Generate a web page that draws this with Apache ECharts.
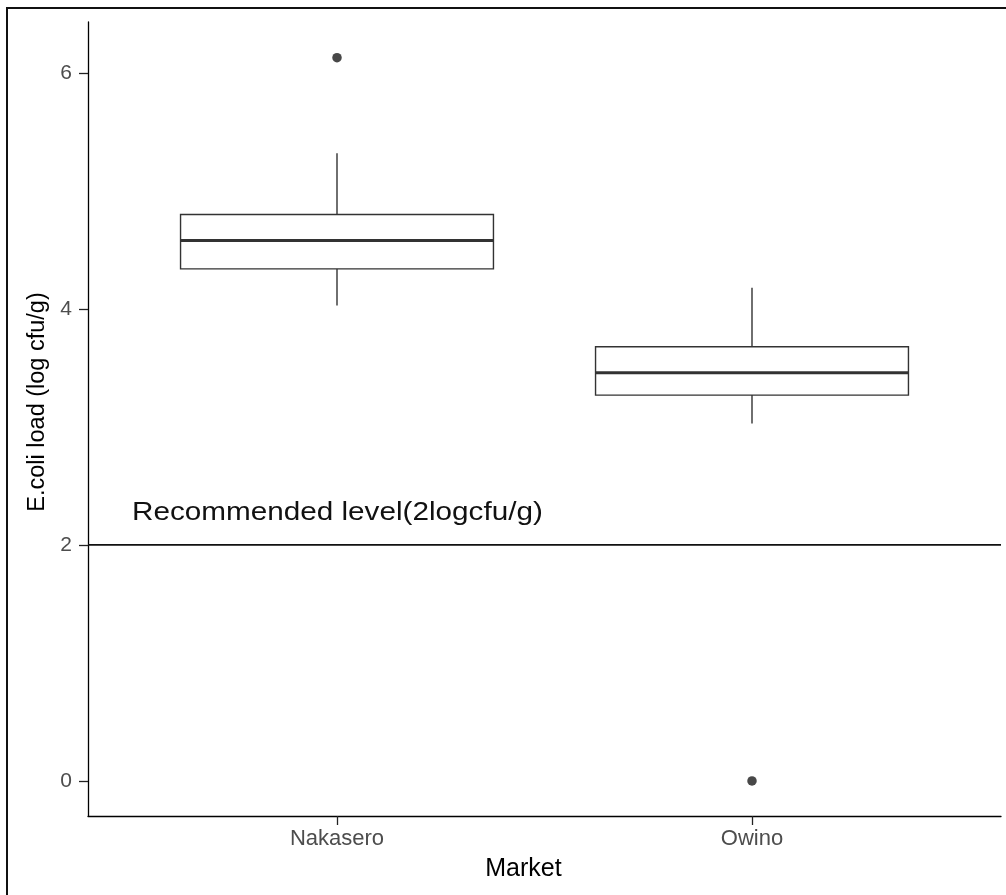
<!DOCTYPE html>
<html>
<head>
<meta charset="utf-8">
<script src="https://cdn.jsdelivr.net/npm/echarts@6/dist/echarts.min.js"></script>
<style>
  html, body { margin: 0; padding: 0; background: #fff; }
  #chart { width: 1006px; height: 895px; }
</style>
</head>
<body>
<div id="chart"></div>
<script>
// ---- data ----
const markets = ['Nakasero', 'Owino'];
const whiskerLow = [4.03, 3.03];
const q1 = [4.34, 3.27];
const median = [4.58, 3.46];
const q3 = [4.80, 3.68];
const whiskerHigh = [5.32, 4.18];
const outlierMarket = ['Nakasero', 'Owino'];
const outlierValue = [6.13, 0];
const recommendedLevel = 2;
const recommendedLabel = 'Recommended level(2logcfu/g)';
const yTicks = [0, 2, 4, 6];
const xTitle = 'Market';
const yTitle = 'E.coli load (log cfu/g)';

// ---- build ----
const FONT = '"Liberation Sans", Arial, sans-serif';
const boxData = markets.map((m, i) => [i + 1, whiskerLow[i], q1[i], median[i], q3[i], whiskerHigh[i]]);
const outlierData = outlierMarket.map((m, i) => [markets.indexOf(m) + 1, outlierValue[i]]);

const chart = echarts.init(document.getElementById('chart'), null, { renderer: 'canvas' });

function renderBox(params, api) {
  const x = api.value(0);
  const pLo = api.coord([x, api.value(1)]);
  const pQ1 = api.coord([x, api.value(2)]);
  const pMed = api.coord([x, api.value(3)]);
  const pQ3 = api.coord([x, api.value(4)]);
  const pHi = api.coord([x, api.value(5)]);
  const halfW = api.size([0.754, 0])[0] / 2;
  const cx = pMed[0];
  const stroke = { stroke: '#333', lineWidth: 1.4, fill: null };
  return {
    type: 'group',
    children: [
      { type: 'line', shape: { x1: cx, y1: pHi[1], x2: cx, y2: pQ3[1] }, style: stroke },
      { type: 'line', shape: { x1: cx, y1: pQ1[1], x2: cx, y2: pLo[1] }, style: stroke },
      { type: 'rect', shape: { x: cx - halfW, y: pQ3[1], width: 2 * halfW, height: pQ1[1] - pQ3[1] },
        style: { stroke: '#333', lineWidth: 1.4, fill: '#fff' } },
      { type: 'line', shape: { x1: cx - halfW, y1: pMed[1], x2: cx + halfW, y2: pMed[1] },
        style: { stroke: '#333', lineWidth: 3 } }
    ]
  };
}

const option = {
  backgroundColor: '#fff',
  animation: false,
  grid: { left: 88, right: 5, top: 22, bottom: 79, containLabel: false },
  xAxis: {
    type: 'value',
    min: 0.4,
    max: 2.6,
    name: xTitle,
    nameLocation: 'middle',
    nameGap: 41,
    nameTextStyle: { fontFamily: FONT, fontSize: 25, color: '#000', padding: [0, 42, 0, 0] },
    axisLine: { show: true, onZero: false, lineStyle: { color: '#000', width: 1.3 } },
    axisTick: { show: true, length: 9, customValues: [1, 2], lineStyle: { color: '#222', width: 1.3 } },
    axisLabel: {
      customValues: [1, 2],
      formatter: v => markets[Math.round(v) - 1] || '',
      fontFamily: FONT, fontSize: 22, color: '#4d4d4d', margin: 12
    },
    splitLine: { show: false }
  },
  yAxis: {
    type: 'value',
    min: -0.297,
    max: 6.432,
    name: yTitle,
    nameLocation: 'middle',
    nameGap: 33,
    nameRotate: 90,
    nameTextStyle: { fontFamily: FONT, fontSize: 23.5, color: '#000', padding: [0, 0, 0, 34] },
    axisLine: { show: true, onZero: false, lineStyle: { color: '#000', width: 1.3 } },
    axisTick: { show: true, length: 9, customValues: yTicks, lineStyle: { color: '#222', width: 1.3 } },
    axisLabel: {
      customValues: yTicks,
      fontFamily: FONT, fontSize: 21, color: '#4d4d4d', margin: 16
    },
    splitLine: { show: false }
  },
  series: [
    {
      type: 'line',
      data: [[0.4, recommendedLevel], [2.6, recommendedLevel]],
      symbol: 'none',
      lineStyle: { color: '#111', width: 1.7 },
      silent: true,
      z: 1
    },
    {
      type: 'custom',
      renderItem: renderBox,
      data: boxData,
      encode: { x: 0, y: [1, 2, 3, 4, 5] },
      z: 2
    },
    {
      type: 'scatter',
      data: outlierData,
      symbol: 'circle',
      symbolSize: 9.5,
      itemStyle: { color: '#1a1a1a' },
      z: 3
    }
  ],
  graphic: [
    {
      type: 'rect',
      shape: { x: 7, y: 8, width: 1020, height: 920 },
      style: { fill: null, stroke: '#111', lineWidth: 2 },
      silent: true
    },
    {
      type: 'text',
      x: 132,
      y: 499,
      scaleX: 1.12,
      style: {
        text: recommendedLabel,
        fontFamily: FONT,
        fontSize: 26.5,
        fill: '#111',
        textAlign: 'left',
        textVerticalAlign: 'top'
      },
      z: 10
    }
  ]
};

chart.setOption(option);
</script>
</body>
</html>
